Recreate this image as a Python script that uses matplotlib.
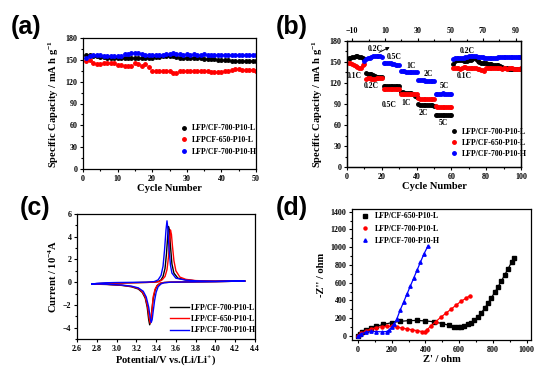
import matplotlib
matplotlib.use("Agg")
import matplotlib.pyplot as plt
from matplotlib.ticker import MultipleLocator

plt.rcParams["font.family"] = ["Liberation Serif", "DejaVu Serif"]
plt.rcParams["font.weight"] = "bold"
plt.rcParams["mathtext.fontset"] = "custom"
plt.rcParams["mathtext.rm"] = "Liberation Serif:bold"
plt.rcParams["mathtext.it"] = "Liberation Serif:bold"
plt.rcParams["mathtext.bf"] = "Liberation Serif:bold"
plt.rcParams["axes.linewidth"] = 0.9

# ---------------- (a) cycling at fixed rate ----------------
cyc_a = list(range(1, 51))
cap_a_700L = [157, 157, 155, 155, 154, 154, 153, 153, 153, 153,
              153, 153, 153, 153, 153, 152, 153, 153, 153, 153,
              154, 154, 155, 155, 155, 155, 154, 152, 152, 152,
              152, 152, 152, 152, 151, 151, 151, 151, 150, 150,
              150, 150, 149, 149, 149, 149, 149, 148, 148, 148]
cap_a_650L = [148, 150, 145, 144, 144, 145, 145, 145, 145, 143,
              143, 142, 142, 142, 145, 144, 141, 144, 140, 135,
              134, 134, 135, 135, 134, 132, 132, 134, 135, 135,
              135, 134, 135, 134, 134, 134, 133, 133, 133, 133,
              134, 134, 136, 137, 137, 136, 136, 136, 136, 135]
cap_a_700H = [153, 155, 156, 156, 156, 155, 155, 155, 155, 155,
              155, 158, 158, 159, 159, 159, 158, 157, 157, 156,
              157, 157, 157, 158, 158, 159, 158, 158, 157, 158,
              157, 158, 157, 157, 158, 157, 157, 157, 157, 157,
              157, 157, 157, 157, 157, 157, 157, 157, 157, 157]
labels_a = ["LFP/CF-700-P10-L", "LFPCF-650-P10-L", "LFP/CF-700-P10-H"]

# ---------------- (b) rate capability ----------------
cyc_b = list(range(1, 101))
cap_b_700L = [155, 156, 157, 157, 158, 158, 157, 157, 156, 154,
              134, 133, 133, 133, 132, 130, 129, 128, 128, 128,
              116, 116, 116, 116, 116, 116, 116, 116, 116, 115,
              107, 107, 106, 106, 106, 106, 106, 105, 101, 100,
              90, 89, 89, 89, 88, 88, 88, 88, 88, 87,
              75, 75, 75, 74, 74, 74, 74, 74, 74, 74,
              147, 152, 153, 153, 153, 153, 152, 152, 152, 153,
              153, 154, 155, 154, 152, 150, 149, 148, 148, 148,
              147, 147, 147, 146, 146, 145, 145, 144, 143, 142,
              141, 141, 140, 140, 140, 140, 140, 140, 140, 140]
cap_b_650L = [148, 149, 147, 145, 144, 143, 142, 141, 146, 147,
              126, 127, 127, 126, 126, 126, 127, 127, 127, 127,
              112, 112, 112, 112, 112, 112, 112, 112, 112, 112,
              105, 105, 104, 104, 104, 104, 104, 104, 104, 104,
              98, 97, 97, 97, 97, 97, 97, 97, 97, 97,
              87, 86, 86, 86, 86, 86, 86, 86, 86, 86,
              142, 141, 142, 141, 140, 141, 143, 143, 142, 142,
              142, 142, 141, 141, 140, 140, 139, 138, 137, 141,
              142, 142, 141, 142, 142, 141, 142, 141, 140, 141,
              141, 140, 141, 141, 141, 140, 140, 140, 140, 141]
cyc_b_H = list(range(10, 101))
cap_b_700H = [152, 154, 155, 156, 157, 158, 159, 159, 158, 158, 157,
              149, 149, 148, 148, 148, 147, 147, 146, 146, 146,
              137, 137, 137, 136, 136, 136, 136, 136, 136, 136,
              124, 124, 124, 124, 123, 123, 123, 123, 123, 123,
              105, 105, 105, 105, 106, 105, 105, 105, 105, 105,
              154, 155, 155, 155, 156, 156, 156, 157, 157, 158,
              158, 158, 158, 158, 157, 157, 157, 157, 156, 156,
              156, 156, 156, 156, 156, 156, 157, 157, 157, 157,
              157, 157, 157, 157, 157, 157, 157, 157, 157, 157]
labels_b = ["LFP/CF-700-P10-L", "LFP/CF-650-P10-L", "LFP/CF-700-P10-H"]
rate_text = ["0.1C", "0.2C", "0.5C", "1C", "2C", "5C", "0.1C",
             "0.2C", "0.5C", "1C", "2C", "5C", "0.2C"]
rate_x = [4, 14, 24.5, 34, 44, 55.5, 67.5, 16, 27, 37, 46.5, 56, 69]
rate_y = [130, 115, 89, 92, 77, 63, 130, 168, 157, 145, 133, 115, 166]

# ---------------- (c) CV ----------------
cv_700L_v = [2.75, 2.9, 3.0, 3.1, 3.2, 3.3, 3.38, 3.42, 3.45, 3.47, 3.49,
             3.505, 3.515, 3.525, 3.535, 3.545, 3.56, 3.58, 3.62, 3.7, 3.8,
             4.0, 4.3,
             4.0, 3.7, 3.55, 3.48, 3.44, 3.41, 3.39, 3.37, 3.355, 3.345,
             3.335, 3.325, 3.31, 3.29, 3.26, 3.22, 3.15, 3.05, 2.9, 2.75]
cv_700L_i = [-0.15, -0.1, -0.08, -0.06, -0.04, -0.02, 0.0, 0.05, 0.2, 0.5, 1.2,
             2.5, 3.8, 4.9, 4.6, 3.2, 1.6, 0.8, 0.35, 0.2, 0.12,
             0.08, 0.1,
             0.05, 0.02, 0.0, -0.03, -0.1, -0.3, -0.7, -1.5, -2.6, -3.4,
             -3.75, -3.3, -2.2, -1.4, -0.9, -0.6, -0.4, -0.28, -0.2, -0.17]
cv_650L_v = [2.75, 2.9, 3.0, 3.1, 3.2, 3.3, 3.38, 3.43, 3.46, 3.49, 3.51,
             3.525, 3.535, 3.545, 3.555, 3.565, 3.58, 3.6, 3.64, 3.7, 3.8,
             4.0, 4.3,
             4.0, 3.7, 3.55, 3.48, 3.44, 3.41, 3.39, 3.37, 3.36, 3.35,
             3.34, 3.33, 3.315, 3.29, 3.26, 3.22, 3.15, 3.05, 2.9, 2.75]
cv_650L_i = [-0.15, -0.1, -0.08, -0.06, -0.04, -0.02, 0.0, 0.05, 0.2, 0.5, 1.1,
             2.2, 3.4, 4.6, 4.2, 3.2, 1.9, 1.0, 0.45, 0.25, 0.14,
             0.09, 0.1,
             0.05, 0.02, 0.0, -0.03, -0.1, -0.3, -0.6, -1.3, -2.3, -3.2,
             -3.6, -3.2, -2.2, -1.3, -0.85, -0.55, -0.38, -0.26, -0.19, -0.16]
cv_700H_v = [2.75, 2.8, 2.9, 3.0, 3.1, 3.2, 3.3, 3.38, 3.42, 3.45, 3.47,
             3.485, 3.5, 3.51, 3.52, 3.53, 3.545, 3.56, 3.6, 3.7, 3.8,
             4.0, 4.3,
             4.0, 3.7, 3.55, 3.48, 3.45, 3.42, 3.4, 3.385, 3.37, 3.36,
             3.35, 3.34, 3.325, 3.3, 3.27, 3.22, 3.15, 3.05, 2.9, 2.75]
cv_700H_i = [-0.18, -0.1, -0.05, -0.03, -0.02, -0.01, 0.0, 0.05, 0.2, 0.6, 1.4,
             2.8, 4.6, 5.4, 4.6, 3.0, 1.5, 0.8, 0.35, 0.18, 0.12,
             0.08, 0.1,
             0.05, 0.02, 0.0, -0.05, -0.15, -0.4, -0.9, -1.6, -2.6, -3.3,
             -3.55, -3.1, -2.2, -1.3, -0.8, -0.5, -0.35, -0.25, -0.18, -0.15]
labels_c = ["LFP/CF-700-P10-L", "LFP/CF-650-P10-L", "LFP/CF-700-P10-H"]

# ---------------- (d) EIS ----------------
z_650L_re = [0, 10, 25, 50, 80, 110, 150, 200, 250, 300, 350, 400, 450, 500,
             540, 570, 590, 610, 630, 650, 670, 690, 710, 730, 750, 770, 790,
             810, 830, 850, 870, 890, 910, 925]
z_650L_im = [0, 20, 40, 65, 90, 110, 130, 150, 165, 173, 175, 170, 160, 140,
             120, 105, 100, 102, 115, 130, 150, 180, 215, 260, 310, 370, 430,
             490, 555, 620, 690, 760, 830, 880]
z_700L_re = [0, 20, 50, 80, 110, 140, 170, 200, 230, 260, 290, 320, 350, 380,
             395, 410, 430, 460, 490, 520, 550, 580, 610, 640, 665]
z_700L_im = [0, 30, 60, 80, 95, 105, 110, 108, 100, 90, 80, 70, 60, 50,
             50, 70, 110, 160, 210, 255, 300, 345, 390, 425, 455]
z_700H_re = [0, 20, 50, 80, 110, 140, 170, 185, 200, 215, 230, 250, 270, 290,
             310, 330, 350, 370, 390, 415]
z_700H_im = [0, 25, 45, 52, 50, 47, 50, 65, 100, 140, 190, 290, 380, 470,
             560, 650, 740, 830, 920, 1015]
labels_d = ["LFP/CF-650-P10-L", "LFP/CF-700-P10-L", "LFP/CF-700-P10-H"]

TICK_FS = 5.8
LAB_FS = 7.6
LEG_FS = 5.6


def style_axes(ax):
    ax.tick_params(which="both", direction="out", labelsize=TICK_FS,
                   width=0.8, pad=1.5)
    ax.tick_params(which="major", length=2.5)
    ax.tick_params(which="minor", length=1.5)
    for lab in ax.get_xticklabels() + ax.get_yticklabels():
        lab.set_fontweight("bold")


fig = plt.figure(figsize=(5.5, 3.74), dpi=100)
W, H = 550.0, 374.0


def add_ax(l, t, r, b):
    return fig.add_axes([l / W, 1 - b / H, (r - l) / W, (b - t) / H])


def panel_label(x, y, s):
    fig.text(x / W, 1 - y / H, s, fontsize=18, fontweight="bold",
             family="Liberation Sans", va="center", ha="left")


# ---- (a)
ax = add_ax(83, 38, 256, 169)
ax.plot(cyc_a, cap_a_700L, "o", color="black", ms=2.5, label=labels_a[0])
ax.plot(cyc_a, cap_a_650L, "o", color="red", ms=2.5, label=labels_a[1])
ax.plot(cyc_a, cap_a_700H, "o", color="blue", ms=2.5, label=labels_a[2])
ax.set_xlim(0, 50)
ax.set_ylim(0, 180)
ax.xaxis.set_major_locator(MultipleLocator(10))
ax.xaxis.set_minor_locator(MultipleLocator(5))
ax.yaxis.set_major_locator(MultipleLocator(30))
ax.yaxis.set_minor_locator(MultipleLocator(15))
ax.set_xlabel("Cycle Number", fontsize=LAB_FS, fontweight="bold", labelpad=1)
ax.set_ylabel("Specific Capacity / mA h g$^{-1}$", fontsize=LAB_FS,
              fontweight="bold", labelpad=3)
style_axes(ax)
ax.legend(loc="center left", bbox_to_anchor=(0.54, 0.22), frameon=False,
          prop={"weight": "bold", "size": LEG_FS},
          handlelength=1.0, handletextpad=0.5, labelspacing=0.5,
          borderpad=0)
panel_label(11, 27, "(a)")

# ---- (b)
ax = add_ax(347, 41, 521, 167)
ax.plot(cyc_b, cap_b_700L, "o", color="black", ms=2.5, label=labels_b[0])
ax.plot(cyc_b, cap_b_650L, "o", color="red", ms=2.5, label=labels_b[1])
ax.plot(cyc_b_H, cap_b_700H, "o", color="blue", ms=2.5, label=labels_b[2])
ax.set_xlim(0, 100)
ax.set_ylim(0, 180)
ax.xaxis.set_major_locator(MultipleLocator(20))
ax.xaxis.set_minor_locator(MultipleLocator(10))
ax.yaxis.set_major_locator(MultipleLocator(30))
ax.yaxis.set_minor_locator(MultipleLocator(15))
ax.set_xlabel("Cycle Number", fontsize=LAB_FS, fontweight="bold", labelpad=1)
ax.set_ylabel("Specific Capacity / mA h g$^{-1}$", fontsize=LAB_FS,
              fontweight="bold", labelpad=3)
for t, x, y in zip(rate_text, rate_x, rate_y):
    ax.text(x, y, t, fontsize=5.5, fontweight="bold", ha="center",
            va="center")
ax.annotate("", xy=(26, 173), xytext=(17, 162),
            arrowprops=dict(arrowstyle="-|>", color="black", lw=0.7,
                            mutation_scale=5))
style_axes(ax)
ax.legend(loc="center left", bbox_to_anchor=(0.57, 0.19), frameon=False,
          prop={"weight": "bold", "size": LEG_FS},
          handlelength=1.0, handletextpad=0.5, labelspacing=0.4,
          borderpad=0)
top = ax.twiny()
top.set_xlim(-13.2, 93.2)
top.xaxis.set_major_locator(MultipleLocator(20, offset=10))
top.xaxis.set_minor_locator(MultipleLocator(10))
style_axes(top)
panel_label(276, 27, "(b)")

# ---- (c)
ax = add_ax(77, 214, 255, 339)
ax.plot(cv_700L_v, cv_700L_i, color="black", lw=1.0, label=labels_c[0])
ax.plot(cv_650L_v, cv_650L_i, color="red", lw=1.0, label=labels_c[1])
ax.plot(cv_700H_v, cv_700H_i, color="blue", lw=1.0, label=labels_c[2])
ax.set_xlim(2.6, 4.4)
ax.set_ylim(-5, 6)
ax.yaxis.set_major_locator(MultipleLocator(2))
ax.yaxis.set_minor_locator(MultipleLocator(1))
ax.set_xticks([2.6, 2.8, 3.0, 3.2, 3.4, 3.6, 3.8, 4.0, 4.2, 4.4])
ax.set_xticklabels(["2.6", "2.8", "3.0", "3.2", "3.4", "3.6", "3.8", "4.0",
                    "4.2", "4.4"])
ax.set_xlabel("Potential/V vs.(Li/Li$^{+}$)", fontsize=LAB_FS,
              fontweight="bold", labelpad=1)
ax.set_ylabel("Current / 10$^{-4}$A", fontsize=LAB_FS, fontweight="bold",
              labelpad=3)
style_axes(ax)
ax.legend(loc="center left", bbox_to_anchor=(0.5, 0.16), frameon=False,
          prop={"weight": "bold", "size": LEG_FS},
          handlelength=2.5, handletextpad=0.2, labelspacing=0.45,
          borderpad=0)
panel_label(20, 208, "(c)")

# ---- (d)
ax = add_ax(352, 209, 531, 340)
ax.plot(z_650L_re, z_650L_im, "-s", color="black", lw=0.9, ms=2.2,
        label=labels_d[0])
ax.plot(z_700L_re, z_700L_im, "-o", color="red", lw=0.9, ms=2.2,
        label=labels_d[1])
ax.plot(z_700H_re, z_700H_im, "-^", color="blue", lw=0.9, ms=2.4,
        label=labels_d[2])
ax.set_xlim(-35, 1025)
ax.set_ylim(-45, 1430)
ax.xaxis.set_major_locator(MultipleLocator(200))
ax.xaxis.set_minor_locator(MultipleLocator(100))
ax.yaxis.set_major_locator(MultipleLocator(200))
ax.yaxis.set_minor_locator(MultipleLocator(100))
ax.set_xlabel("Z' / ohm", fontsize=LAB_FS, fontweight="bold", labelpad=1)
ax.set_ylabel("-Z'' / ohm", fontsize=LAB_FS, fontweight="bold", labelpad=3)
style_axes(ax)
leg = ax.legend(loc="center left", bbox_to_anchor=(0.03, 0.85),
                frameon=False, prop={"weight": "bold", "size": LEG_FS},
                handlelength=1.0, handletextpad=0.8, labelspacing=0.55,
                borderpad=0)
for h in leg.legend_handles:
    h.set_linestyle("none")
panel_label(276, 208, "(d)")

fig.savefig("out.png", dpi=100)
